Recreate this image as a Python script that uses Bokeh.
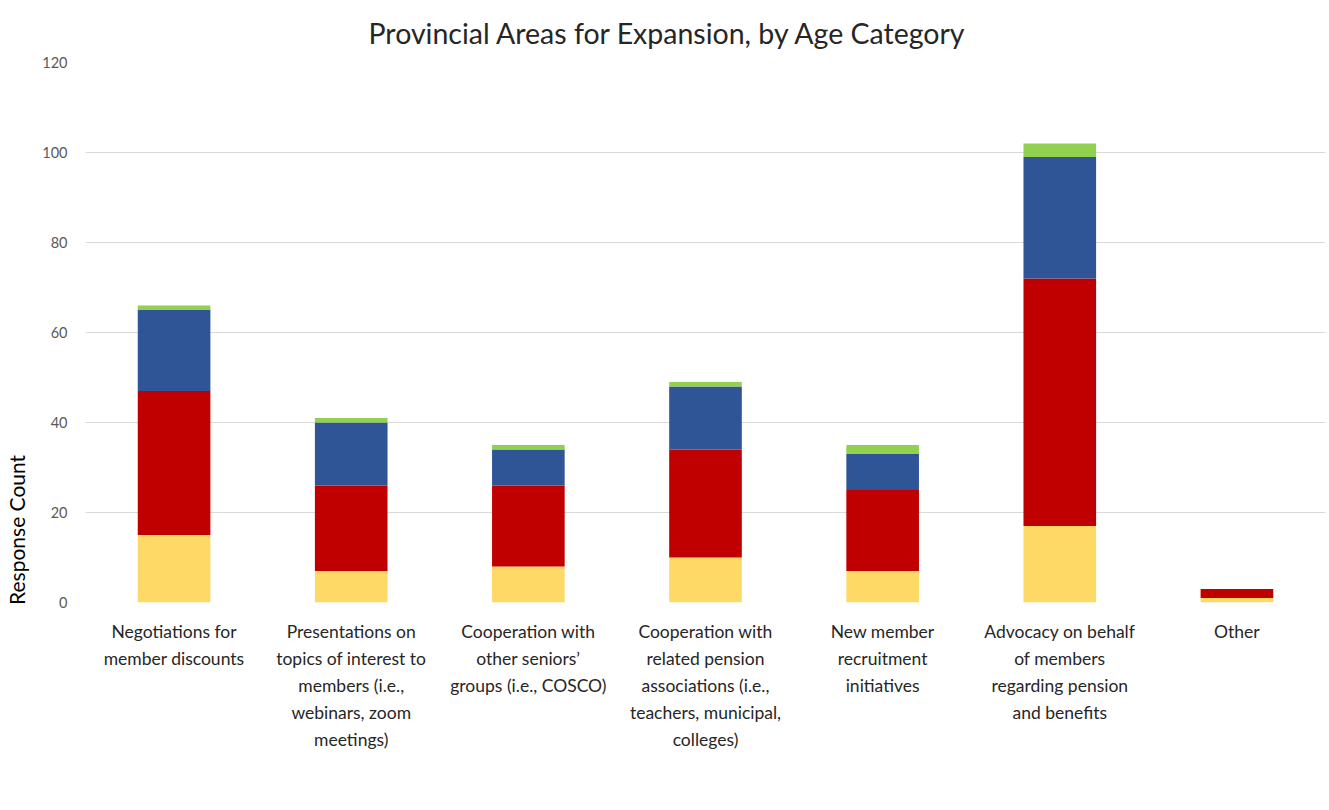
from bokeh.plotting import figure
from bokeh.models import (FactorRange, Range1d, Legend, LegendItem,
                          FixedTicker, ColumnDataSource, CategoricalAxis)
from bokeh.embed import file_html
from bokeh.resources import INLINE

# ---- data ----
categories = [
    "Negotiations for member discounts",
    "Presentations on topics of interest to members (i.e., webinars, zoom meetings)",
    "Cooperation with other seniors\u2019 groups (i.e., COSCO)",
    "Cooperation with related pension associations (i.e., teachers, municipal, colleges)",
    "New member recruitment initiatives",
    "Advocacy on behalf of members regarding pension and benefits",
    "Other",
]
category_lines = [
    ["Negotiations for", "member discounts"],
    ["Presentations on", "topics of interest to", "members (i.e.,", "webinars, zoom", "meetings)"],
    ["Cooperation with", "other seniors\u2019", "groups (i.e., COSCO)"],
    ["Cooperation with", "related pension", "associations (i.e.,", "teachers, municipal,", "colleges)"],
    ["New member", "recruitment", "initiatives"],
    ["Advocacy on behalf", "of members", "regarding pension", "and benefits"],
    ["Other"],
]
series = ["Under 65", "Age 66 to 75", "Age 76 to 85", "Greater than age 85"]
under_65 = [15, 7, 8, 10, 7, 17, 1]
age_66_to_75 = [32, 19, 18, 24, 18, 55, 2]
age_76_to_85 = [18, 14, 8, 14, 8, 27, 0]
greater_than_85 = [1, 1, 1, 1, 2, 3, 0]
y_ticks = [0, 20, 40, 60, 80, 100, 120]
colors = ["#FFD966", "#C00000", "#2F5597", "#92D050"]
x_title = "Areas for Expansion"
y_title = "Response Count"

keys = ["s0", "s1", "s2", "s3"]
source = ColumnDataSource(dict(x=categories, s0=under_65, s1=age_66_to_75,
                               s2=age_76_to_85, s3=greater_than_85))

FONT = "Lato"

p = figure(x_range=FactorRange(*categories), y_range=Range1d(0, 120),
           frame_width=1240, frame_height=540, x_axis_location=None,
           output_backend="svg", toolbar_location=None,
           min_border_left=85, min_border_right=1, min_border_top=62,
           min_border_bottom=0,
           title="Provincial Areas for Expansion, by Age Category")

p.title.align = "left"
p.title.offset = 283
p.title.text_font = FONT
p.title.text_font_size = "28.5px"
p.title.text_font_style = "normal"
p.title.text_color = "#262626"
p.title.standoff = 25

renderers = p.vbar_stack(keys, x="x", width=0.41, color=colors, source=source,
                         line_width=0)
# invisible renderer used only to carry the x-axis title inside the legend row
dummy = p.vbar(x=categories[:1], top=[0], width=0.41, fill_alpha=0, line_alpha=0)

p.outline_line_color = None
try:
    p.xgrid.grid_line_color = None
except Exception:
    pass
p.ygrid.grid_line_color = "#D9D9D9"
p.ygrid.grid_line_width = 1

p.yaxis.ticker = FixedTicker(ticks=y_ticks)
p.yaxis.axis_line_color = None
p.yaxis.major_tick_line_color = None
p.yaxis.minor_tick_line_color = None
p.yaxis.major_tick_out = 0
p.yaxis.major_tick_in = 0
p.yaxis.major_label_text_font = FONT
p.yaxis.major_label_text_font_size = "14.5px"
p.yaxis.major_label_text_color = "#595959"
p.yaxis.major_label_standoff = 18
p.yaxis.axis_label = "\u00a0" * 27 + y_title
p.yaxis.axis_label_text_font = FONT
p.yaxis.axis_label_text_font_size = "21px"
p.yaxis.axis_label_text_font_style = "normal"
p.yaxis.axis_label_text_color = "#000000"
p.yaxis.axis_label_standoff = 10
for val in ("start", "left", "bottom"):
    try:
        p.yaxis.axis_label_align = val
        break
    except Exception:
        pass

# one category axis per text line of the wrapped category labels,
# each on its own factor range that lines up with the main one
n_lines = max(len(l) for l in category_lines)
for i in range(n_lines):
    factors = []
    blank = 0
    for lines in category_lines:
        if i < len(lines):
            f = lines[i]
        else:
            blank += 1
            f = "\u00a0" * blank
        while f in factors:
            f = f + "\u200b"
        factors.append(f)
    name = "line%d" % i
    p.extra_x_ranges[name] = FactorRange(factors=factors)
    ax = CategoricalAxis(x_range_name=name,
                         axis_line_color=None, major_tick_line_color=None,
                         major_tick_out=0, major_tick_in=0,
                         major_label_text_font=FONT,
                         major_label_text_font_size="17.5px",
                         major_label_text_color="#262626",
                         major_label_text_line_height=1.0,
                         major_label_standoff=18 if i == 0 else 3)
    p.add_layout(ax, "below")

items = [LegendItem(label=x_title + "\u00a0" * 19, renderers=[dummy])]
items += [LegendItem(label=series[i], renderers=[renderers[i]]) for i in range(4)]
legend = Legend(items=items, orientation="horizontal", location="left",
                label_text_font=FONT, label_text_font_size="21px",
                label_text_color="#262626", glyph_width=14, glyph_height=14,
                spacing=20, label_standoff=6, border_line_color=None,
                background_fill_alpha=0, padding=0, margin=2)
p.add_layout(legend, "below")

open("out.html", "w").write(file_html(p, INLINE))
